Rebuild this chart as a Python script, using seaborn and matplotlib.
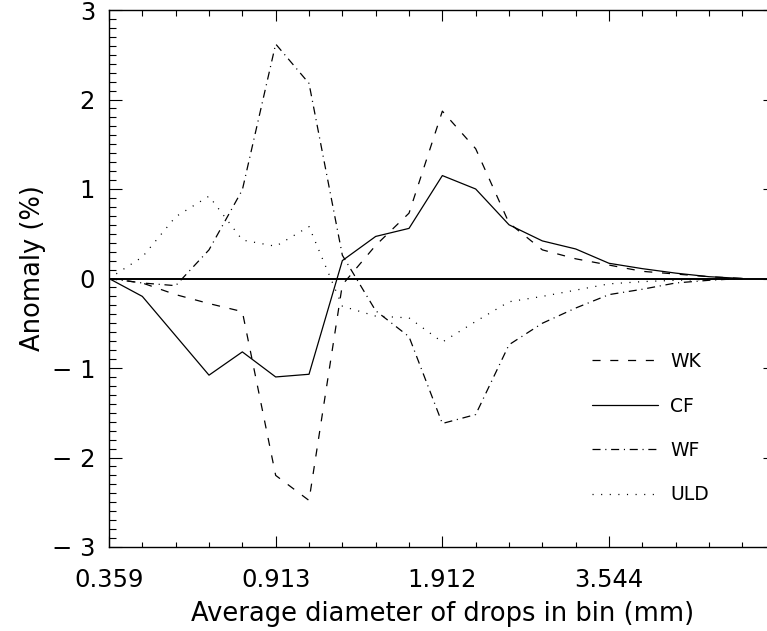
import numpy as np
import pandas as pd
import matplotlib
matplotlib.use("Agg")
import matplotlib.pyplot as plt
import seaborn as sns
from matplotlib.ticker import FixedLocator, FixedFormatter, MultipleLocator

# ---- data ----
bin_index = list(range(20))
x_tick_bins = [0, 5, 10, 15, 20]
x_tick_labels = ["0.359", "0.913", "1.912", "3.544", ""]
y_ticks = [-3, -2, -1, 0, 1, 2, 3]
y_tick_labels = ["\u2212 3", "\u2212 2", "\u2212 1", "0", "1", "2", "3"]

series_names = ["WK", "CF", "WF", "ULD"]
wk = [0.0, -0.05, -0.18, -0.28, -0.37, -2.20, -2.48, -0.07, 0.37, 0.73,
      1.87, 1.45, 0.62, 0.32, 0.22, 0.15, 0.08, 0.05, 0.02, 0.0]
cf = [0.0, -0.20, -0.64, -1.08, -0.82, -1.10, -1.07, 0.20, 0.47, 0.56,
      1.15, 1.00, 0.60, 0.42, 0.33, 0.17, 0.11, 0.06, 0.02, 0.0]
wf = [0.0, -0.05, -0.08, 0.32, 0.99, 2.62, 2.18, 0.26, -0.36, -0.65,
      -1.62, -1.52, -0.74, -0.50, -0.33, -0.18, -0.12, -0.05, -0.02, 0.0]
uld = [0.0, 0.24, 0.69, 0.92, 0.43, 0.36, 0.58, -0.31, -0.42, -0.44,
       -0.71, -0.48, -0.26, -0.20, -0.13, -0.06, -0.035, -0.02, -0.01, 0.0]

df = pd.DataFrame({
    "bin": bin_index * len(series_names),
    "anomaly": wk + cf + wf + uld,
    "series": sum([[n] * len(bin_index) for n in series_names], []),
})

# ---- style ----
sns.set_style("white")
plt.rcParams["font.family"] = ["DejaVu Sans"]
plt.rcParams["lines.scale_dashes"] = False
plt.rcParams["text.color"] = "black"
plt.rcParams["axes.labelcolor"] = "black"
plt.rcParams["xtick.color"] = "black"
plt.rcParams["ytick.color"] = "black"

W, H = 767, 631
fig = plt.figure(figsize=(W / 100, H / 100), dpi=100)
left, right, top, bottom = 109, 775.7, 10, 547
ax = fig.add_axes([left / W, (H - bottom) / H, (right - left) / W, (bottom - top) / H])

line_styles = {
    "WK": (0, (5.8, 7.0)),
    "CF": "-",
    "WF": (0, (5.8, 3.4, 0.8, 3.4)),
    "ULD": (0, (0.8, 5.4)),
}

for name in series_names:
    sub = df[df["series"] == name]
    sns.lineplot(data=sub, x="bin", y="anomaly", ax=ax, color="black",
                 linewidth=0.9, linestyle=line_styles[name], label=name)

ax.axhline(0, color="black", linewidth=1.4)

ax.set_xlim(0, 20)
ax.set_ylim(-3, 3)
ax.xaxis.set_major_locator(FixedLocator(x_tick_bins))
ax.xaxis.set_major_formatter(FixedFormatter(x_tick_labels))
ax.xaxis.set_minor_locator(MultipleLocator(1))
ax.yaxis.set_major_locator(FixedLocator(y_ticks))
ax.yaxis.set_major_formatter(FixedFormatter(y_tick_labels))
ax.yaxis.set_minor_locator(MultipleLocator(0.1))

px = 0.72
ax.tick_params(axis="x", which="major", direction="in", length=11 * px, width=0.8,
               top=True, bottom=True, pad=15, labelsize=17.5)
ax.tick_params(axis="x", which="minor", direction="in", length=5.5 * px, width=0.8,
               top=True, bottom=True)
ax.tick_params(axis="y", which="major", direction="in", length=13.5 * px, width=0.8,
               left=True, right=True, pad=10, labelsize=17.5)
ax.tick_params(axis="y", which="minor", direction="in", length=6.7 * px, width=0.8,
               left=True, right=True)

for s in ax.spines.values():
    s.set_visible(True)
    s.set_color("black")
    s.set_linewidth(1.0)

ax.set_xlabel("Average diameter of drops in bin (mm)", fontsize=18.5)
ax.set_ylabel("Anomaly (%)", fontsize=18.5)
ax.xaxis.set_label_coords(0.5, -0.1)
ax.yaxis.set_label_coords(-0.095, 0.52)

handles, labels = ax.get_legend_handles_labels()
leg = ax.legend(handles, labels, loc="upper left",
                bbox_to_anchor=(591.7 / W, 1 - 352 / H), bbox_transform=fig.transFigure,
                frameon=False, fontsize=13.5, handlelength=3.56, handletextpad=0.62,
                labelspacing=1.36, borderpad=0, borderaxespad=0)

fig.savefig("out.png", dpi=100)
